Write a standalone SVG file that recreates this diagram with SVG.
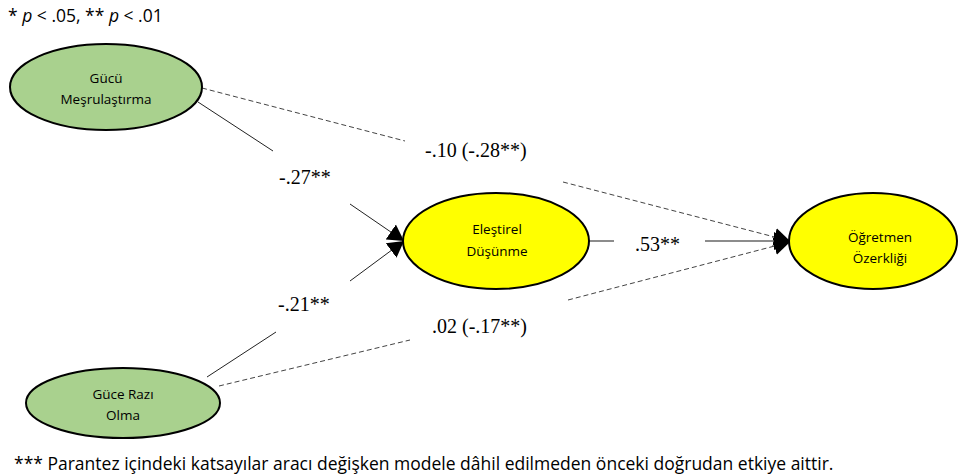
<svg xmlns="http://www.w3.org/2000/svg" width="960" height="476" viewBox="0 0 960 476">
<style>
.node{stroke:#000;stroke-width:2}
.green{fill:#a9d18e}
.yellow{fill:#ffff00}
.nt{font-family:"Open Sans","Noto Sans",sans-serif;font-size:13.5px;fill:#000;text-anchor:middle}
.pl{font-family:"Liberation Serif","Times New Roman",serif;font-size:20px;fill:#000}
.note{font-family:"Open Sans","Noto Sans",sans-serif;font-size:17.5px;fill:#000}
.solid{fill:none;stroke:#222;stroke-width:1}
.dash{fill:none;stroke:#444;stroke-width:1;stroke-dasharray:5 3}
.mid{fill:none;stroke:#666;stroke-width:1.5}
</style>
<defs>
<marker id="ah" markerUnits="userSpaceOnUse" markerWidth="18" markerHeight="20" refX="16" refY="9" orient="auto" viewBox="0 0 18 18">
<path d="M0,0 L16,9 L0,18 z" fill="#000"/>
</marker>
</defs>
<rect width="960" height="476" fill="#fff"/>
<text class="note" x="8" y="22" font-size="17px">* <tspan font-style="italic">p</tspan> &lt; .05, ** <tspan font-style="italic">p</tspan> &lt; .01</text>
<g id="connectors">
<path class="solid" d="M198,102 L273,151"/>
<path class="solid" d="M350,204 L404,241" marker-end="url(#ah)"/>
<path class="solid" d="M207,377 L276,332"/>
<path class="solid" d="M350,281 L404,241" marker-end="url(#ah)"/>
<path class="dash" d="M202,88 L405,141"/>
<path class="dash" d="M563,182 L790,241" marker-end="url(#ah)"/>
<path class="dash" d="M219,386 L410,340"/>
<path class="dash" d="M568,300 L790,242" marker-end="url(#ah)"/>
<path class="mid" d="M589,241 L614,241"/>
<path class="mid" d="M705,241 L790,241" marker-end="url(#ah)"/>
</g>
<g id="labels">
<text class="pl" x="279" y="184">-.27**</text>
<text class="pl" x="425" y="157">-.10 (-.28**)</text>
<text class="pl" x="635" y="251">.53**</text>
<text class="pl" x="278" y="311">-.21**</text>
<text class="pl" x="432" y="333">.02 (-.17**)</text>
</g>
<g id="gucu">
<ellipse class="node green" cx="106" cy="87" rx="96" ry="43"/>
<text class="nt" x="106" y="83">Gücü</text>
<text class="nt" x="106" y="104">Meşrulaştırma</text>
</g>
<g id="elestirel">
<ellipse class="node yellow" cx="496" cy="241" rx="93" ry="48"/>
<text class="nt" x="497" y="234">Eleştirel</text>
<text class="nt" x="497" y="256">Düşünme</text>
</g>
<g id="ogretmen">
<ellipse class="node yellow" cx="873" cy="241" rx="84" ry="48"/>
<text class="nt" x="880" y="242">Öğretmen</text>
<text class="nt" x="880" y="263">Özerkliği</text>
</g>
<g id="guce">
<ellipse class="node green" cx="123" cy="403" rx="97" ry="35"/>
<text class="nt" x="123" y="399">Güce Razı</text>
<text class="nt" x="123" y="420">Olma</text>
</g>
<text class="note" x="14" y="470">*** Parantez içindeki katsayılar aracı değişken modele dâhil edilmeden önceki doğrudan etkiye aittir.</text>
</svg>
